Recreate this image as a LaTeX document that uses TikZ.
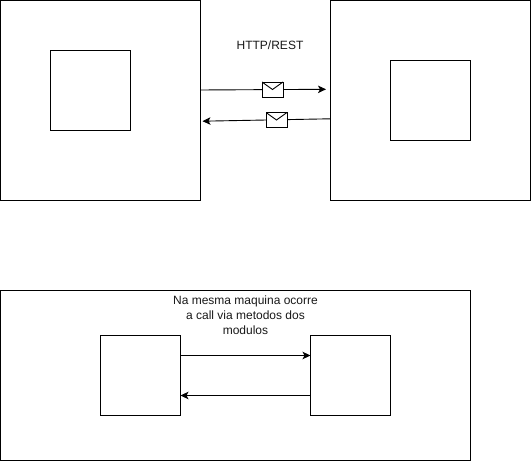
\documentclass[tikz,border=0pt]{standalone}
\usepackage{fontspec}
\setmainfont{Liberation Sans}
\usetikzlibrary{arrows.meta}
\tikzset{
  x=1pt,y=-1pt,
  box/.style={draw=black,fill=white,line width=0.9pt,rectangle,inner sep=0pt,outer sep=0pt,anchor=north west,minimum width=#1,minimum height=#1},
  widebox/.style={draw=black,fill=white,line width=0.9pt,rectangle,inner sep=0pt,outer sep=0pt,anchor=north west,minimum width=470pt,minimum height=170pt},
  flow/.style={draw=black,line width=0.9pt,-{Stealth[length=8pt,width=7.5pt,inset=2pt]}},
  envelope/.style={draw=black,fill=white,line width=0.9pt,rectangle,inner sep=0pt,outer sep=0pt,minimum width=21pt,minimum height=15pt,
    path picture={\draw[black,line width=0.9pt] (path picture bounding box.north west) -- (path picture bounding box.center) -- (path picture bounding box.north east);}},
  caption/.style={font=\fontsize{12}{15}\selectfont,text=black!90,align=center,inner sep=0pt}
}
\begin{document}
\begin{tikzpicture}
\useasboundingbox (0,0) rectangle (531,462);
\fill[white] (0,0) rectangle (531,462);
\node[box=200pt] (A) at (0.5,0.5) {};
\node[box=200pt] (B) at (330.5,0.5) {};
\node[box=80pt] (Ai) at (50.5,50.5) {};
\node[box=80pt] (Bi) at (390.5,60.5) {};
\node[widebox] (M) at (0.5,290.5) {};
\node[box=80pt] (C) at (100.5,335.5) {};
\node[box=80pt] (D) at (310.5,335.5) {};
\coordinate (r1) at (326,89.3);
\coordinate (l1) at (202.5,121.2);
\coordinate (As) at (200.5,90);
\coordinate (Bs) at (330.5,118.8);
\draw[flow] (As) -- (r1);
\draw[flow] (Bs) -- (l1);
\node[envelope] (E1) at (272.5,89.5) {};
\node[envelope] (E2) at (276.5,120) {};
\draw[flow] (C.east |- 0,355.5) -- (D.west |- 0,355.5);
\draw[flow] (D.west |- 0,395.5) -- (C.east |- 0,395.5);
\node[caption] (T1) at (270,45) {HTTP/REST};
\node[caption] (T2) at (245.5,315.5) {Na mesma maquina ocorre\\a call via metodos dos\\modulos};
\end{tikzpicture}
\end{document}
